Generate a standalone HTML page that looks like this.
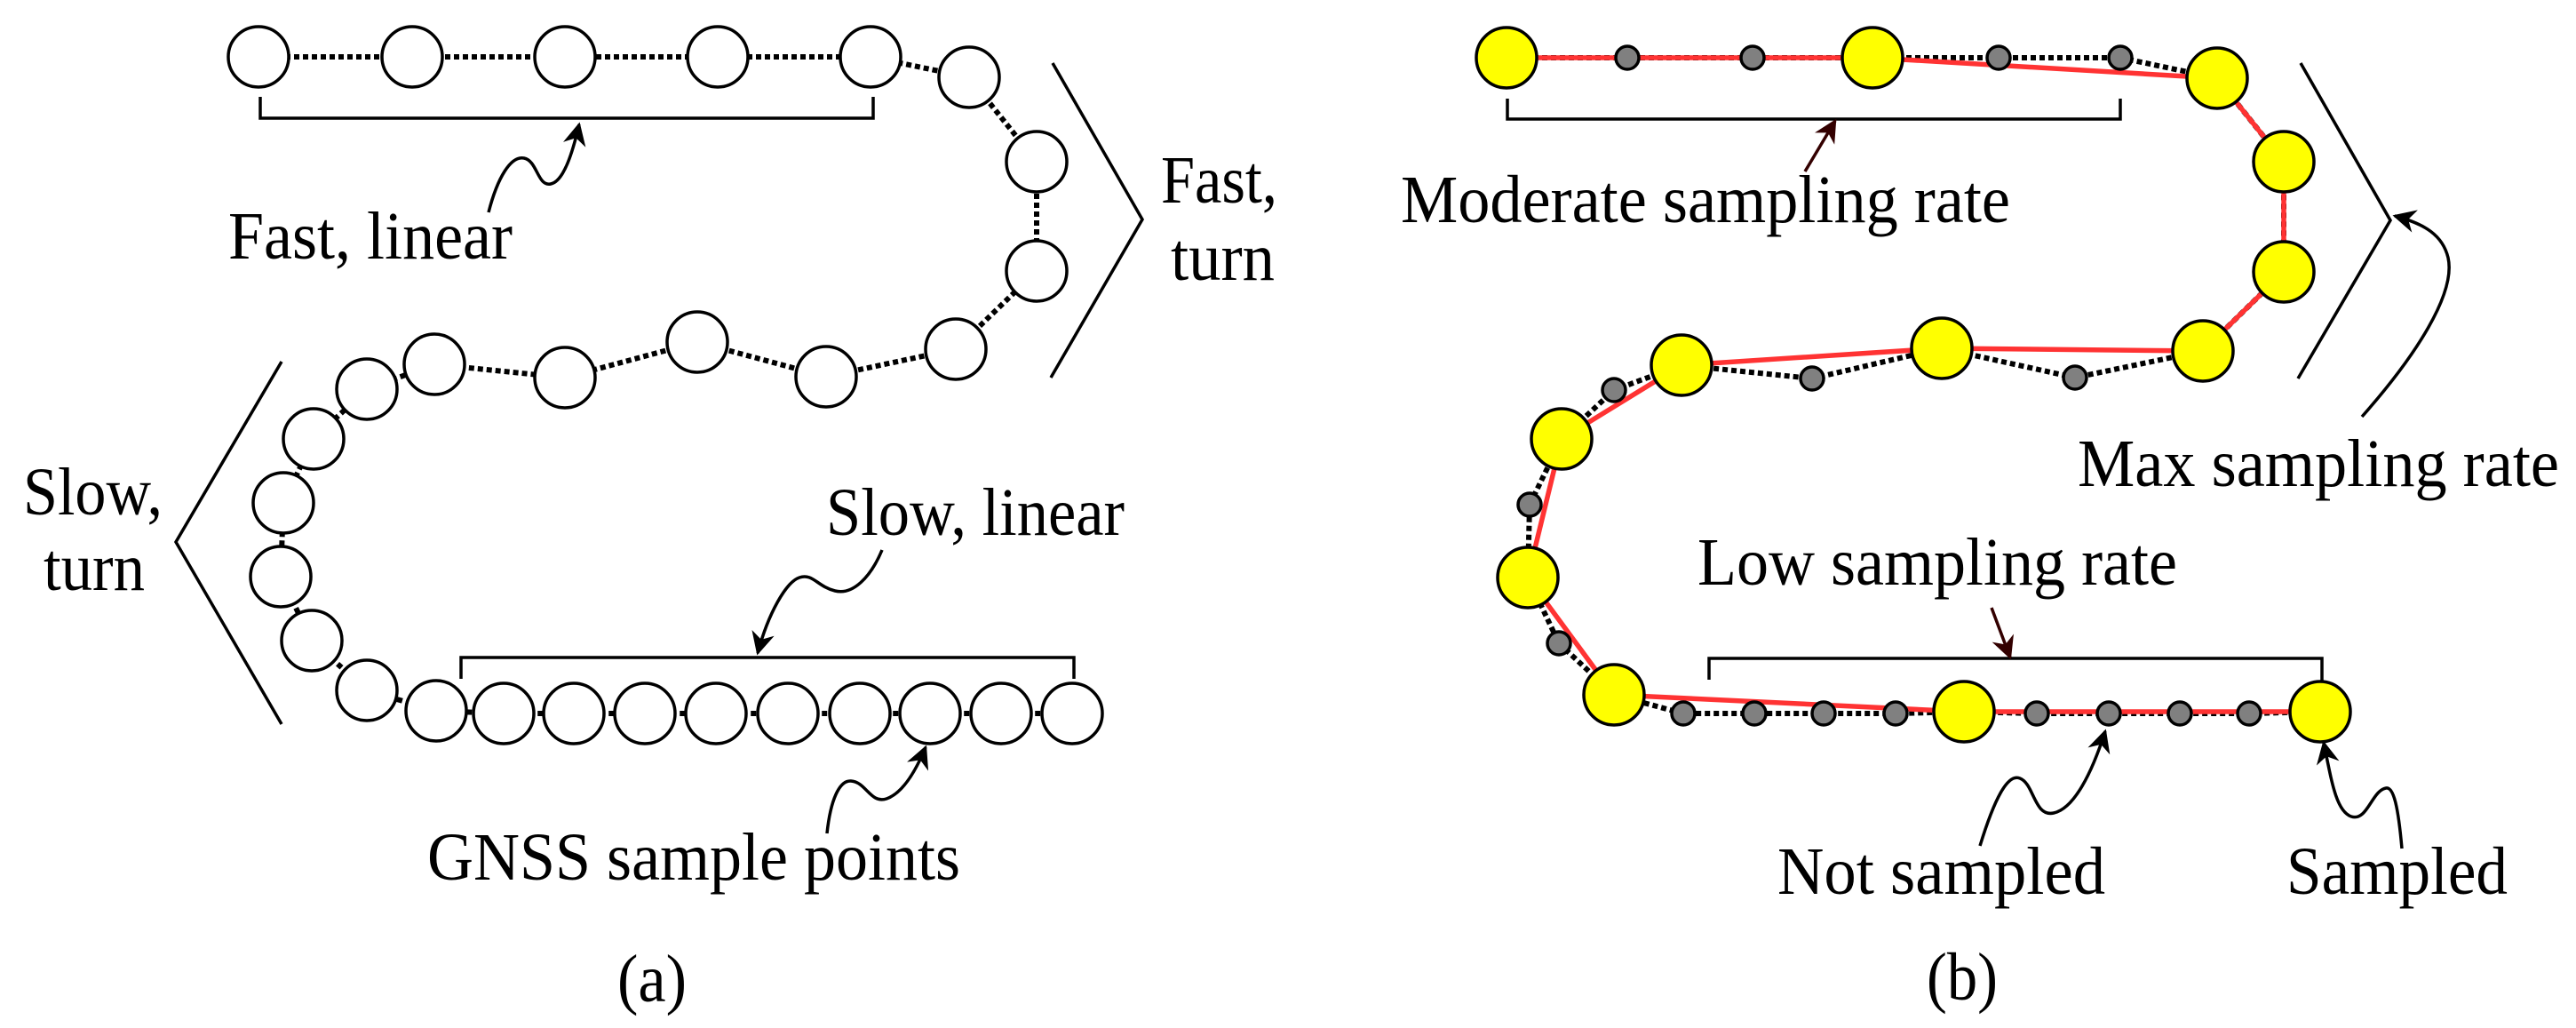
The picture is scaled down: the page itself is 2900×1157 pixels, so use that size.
<!DOCTYPE html>
<html><head><meta charset="utf-8"><style>
html,body{margin:0;padding:0;background:#fff;}
svg{display:block;}
svg text{font-family:"Liberation Serif","Times New Roman","DejaVu Serif",serif !important;font-size:76px;fill:#000;}
</style></head><body>
<svg width="2900" height="1157" viewBox="0 0 2900 1157" xmlns="http://www.w3.org/2000/svg">
<defs>
<marker id="a" viewBox="0 0 10 10" refX="9" refY="5" markerWidth="26" markerHeight="26" markerUnits="userSpaceOnUse" orient="auto"><path d="M0,0 L10,5 L0,10 L3,5 Z" fill="#000"/></marker>
<marker id="ar" viewBox="0 0 10 10" refX="9" refY="5" markerWidth="26" markerHeight="26" markerUnits="userSpaceOnUse" orient="auto"><path d="M0,0 L10,5 L0,10 L3,5 Z" fill="#300"/></marker>
</defs>

<!-- ===== Panel (a) ===== -->
<polyline fill="none" stroke="#000" stroke-width="6" stroke-dasharray="6,4"
 points="291,64 464,64 636,64 808,64 980,64 1091,87 1167,182 1167,305 1076,393 930,424 785,385 636,425 489,410 413,438 353,494 319,566 316,649 351,721 413,777 491,800 567,803 646,803 726,803 806,803 887,803 968,803 1047,803 1127,803 1207,803"/>
<g fill="#fff" stroke="#000" stroke-width="3.5">
<circle cx="291" cy="64" r="34"/><circle cx="464" cy="64" r="34"/><circle cx="636" cy="64" r="34"/><circle cx="808" cy="64" r="34"/><circle cx="980" cy="64" r="34"/>
<circle cx="1091" cy="87" r="34"/><circle cx="1167" cy="182" r="34"/><circle cx="1167" cy="305" r="34"/><circle cx="1076" cy="393" r="34"/>
<circle cx="930" cy="424" r="34"/><circle cx="785" cy="385" r="34"/><circle cx="636" cy="425" r="34"/><circle cx="489" cy="410" r="34"/>
<circle cx="413" cy="438" r="34"/><circle cx="353" cy="494" r="34"/><circle cx="319" cy="566" r="34"/><circle cx="316" cy="649" r="34"/>
<circle cx="351" cy="721" r="34"/><circle cx="413" cy="777" r="34"/><circle cx="491" cy="800" r="34"/>
<circle cx="567" cy="803" r="34"/><circle cx="646" cy="803" r="34"/><circle cx="726" cy="803" r="34"/><circle cx="806" cy="803" r="34"/><circle cx="887" cy="803" r="34"/><circle cx="968" cy="803" r="34"/><circle cx="1047" cy="803" r="34"/><circle cx="1127" cy="803" r="34"/><circle cx="1207" cy="803" r="34"/>
</g>
<g fill="none" stroke="#000" stroke-width="3.5">
<polyline points="293,109 293,133 983,133 983,109"/>
<polyline points="519,764 519,740 1209,740 1209,764"/>
<polyline points="1185,71 1286,247 1183,425"/>
<polyline points="317,407 198,610 317,815"/>
<path d="M550,239 C560,200 575,175 590,178 C605,181 605,210 620,207 C635,204 645,170 652,140" marker-end="url(#a)"/>
<path d="M993,619 C980,650 960,670 940,665 C920,660 915,645 900,650 C885,655 865,690 853,735" marker-end="url(#a)"/>
<path d="M931,938 C935,900 945,878 958,879 C975,880 980,905 998,899 C1015,893 1030,870 1042,841" marker-end="url(#a)"/>
</g>
<g font-family="Liberation Serif, Times New Roman, DejaVu Serif, serif" font-size="76">
<text x="257" y="291" textLength="320" lengthAdjust="spacingAndGlyphs">Fast, linear</text>
<text x="1307" y="228" textLength="131" lengthAdjust="spacingAndGlyphs">Fast,</text>
<text x="1318" y="315" textLength="117" lengthAdjust="spacingAndGlyphs">turn</text>
<text x="26" y="579" textLength="157" lengthAdjust="spacingAndGlyphs">Slow,</text>
<text x="49" y="664" textLength="114" lengthAdjust="spacingAndGlyphs">turn</text>
<text x="930" y="602" textLength="336" lengthAdjust="spacingAndGlyphs">Slow, linear</text>
<text x="481" y="990" textLength="600" lengthAdjust="spacingAndGlyphs">GNSS sample points</text>
<text x="695" y="1127" textLength="78" lengthAdjust="spacingAndGlyphs">(a)</text>
</g>

<!-- ===== Panel (b) ===== -->
<polyline fill="none" stroke="#000" stroke-width="6" stroke-dasharray="6,4"
 points="1696,65 1832,65 1973,65 2108,65 2250,65 2387,65 2496,88 2571,182 2571,306 2480,395 2336,425 2186,392 2040,426 1893,411 1817,439 1758,494 1722,568 1720,650 1755,724 1817,782 1895,803 1975,803 2053,803 2134,803 2211,801 2293,803 2374,803 2454,803 2532,803 2612,801"/>
<polyline fill="none" stroke="#ff3333" stroke-width="5.5"
 points="1696,65 2108,65 2496,88 2571,182 2571,306 2480,395 2186,392 1893,411 1758,494 1720,650 1817,782 2211,801 2612,801"/>
<g fill="#808080" stroke="#000" stroke-width="3.5">
<circle cx="1832" cy="65" r="13"/><circle cx="1973" cy="65" r="13"/><circle cx="2250" cy="65" r="13"/><circle cx="2387" cy="65" r="13"/>
<circle cx="2336" cy="425" r="13"/><circle cx="2040" cy="426" r="13"/><circle cx="1817" cy="439" r="13"/><circle cx="1722" cy="568" r="13"/><circle cx="1755" cy="724" r="13"/>
<circle cx="1895" cy="803" r="13"/><circle cx="1975" cy="803" r="13"/><circle cx="2053" cy="803" r="13"/><circle cx="2134" cy="803" r="13"/>
<circle cx="2293" cy="803" r="13"/><circle cx="2374" cy="803" r="13"/><circle cx="2454" cy="803" r="13"/><circle cx="2532" cy="803" r="13"/>
</g>
<g fill="#ffff00" stroke="#000" stroke-width="3.5">
<circle cx="1696" cy="65" r="34"/><circle cx="2108" cy="65" r="34"/><circle cx="2496" cy="88" r="34"/><circle cx="2571" cy="182" r="34"/><circle cx="2571" cy="306" r="34"/><circle cx="2480" cy="395" r="34"/>
<circle cx="2186" cy="392" r="34"/><circle cx="1893" cy="411" r="34"/><circle cx="1758" cy="494" r="34"/><circle cx="1720" cy="650" r="34"/><circle cx="1817" cy="782" r="34"/><circle cx="2211" cy="801" r="34"/><circle cx="2612" cy="801" r="34"/>
</g>
<g fill="none" stroke="#000" stroke-width="3.5">
<polyline points="1697,111 1697,134 2387,134 2387,111"/>
<polyline points="1924,765 1924,741 2614,741 2614,766"/>
<polyline points="2590,71 2691,248 2587,426"/>
<path d="M2659,469 C2720,400 2765,330 2756,290 C2750,265 2730,252 2696,243" marker-end="url(#a)"/>
<path d="M2229,952 C2245,900 2260,870 2274,876 C2290,882 2290,920 2312,915 C2335,910 2355,870 2370,823" marker-end="url(#a)"/>
<path d="M2704,955 C2700,910 2695,885 2686,887 C2670,890 2665,925 2647,919 C2630,913 2625,880 2616,836" marker-end="url(#a)"/>
</g>
<g fill="none" stroke="#300" stroke-width="3.5">
<path d="M2032,193 L2066,136" marker-end="url(#ar)"/>
<path d="M2242,684 L2263,740" marker-end="url(#ar)"/>
</g>
<g font-family="Liberation Serif, Times New Roman, DejaVu Serif, serif" font-size="76">
<text x="1577" y="250" textLength="686" lengthAdjust="spacingAndGlyphs">Moderate sampling rate</text>
<text x="2339" y="547" textLength="542" lengthAdjust="spacingAndGlyphs">Max sampling rate</text>
<text x="1911" y="658" textLength="540" lengthAdjust="spacingAndGlyphs">Low sampling rate</text>
<text x="2001" y="1006" textLength="369" lengthAdjust="spacingAndGlyphs">Not sampled</text>
<text x="2574" y="1006" textLength="249" lengthAdjust="spacingAndGlyphs">Sampled</text>
<text x="2169" y="1125" textLength="80" lengthAdjust="spacingAndGlyphs">(b)</text>
</g>
</svg>
</body></html>
